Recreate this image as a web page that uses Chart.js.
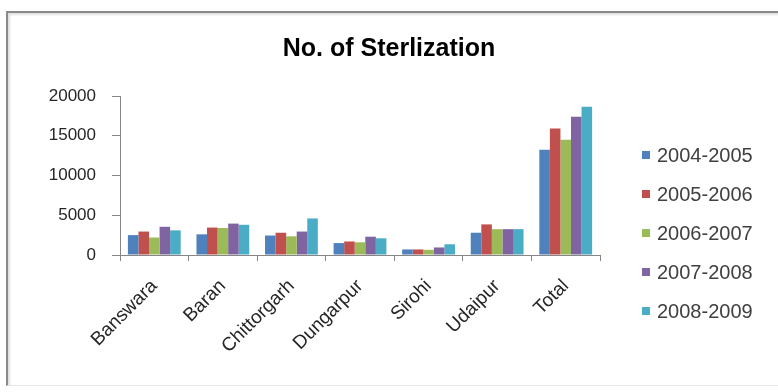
<!DOCTYPE html>
<html>
<head>
<meta charset="utf-8">
<script src="https://cdn.jsdelivr.net/npm/chart.js@4.4.1/dist/chart.umd.min.js"></script>
<style>
  html, body { margin: 0; padding: 0; background: #fff; }
  #wrap { position: relative; width: 778px; height: 392px; overflow: hidden; background: #fff; }
  #frame {
    position: absolute; left: 6px; top: 11px; width: 800px; height: 372px;
    border-left: 2px solid #8a8a8a; border-top: 2px solid #8a8a8a; border-bottom: 1px solid #e6e6e6;
    box-shadow: inset 2px 2px 2px rgba(0,0,0,0.12);
  }
  canvas { position: absolute; left: 0; top: 0; }
  #legend { position: absolute; left: 642px; top: 0; font-family: "Liberation Sans", Arial, sans-serif; font-size: 20px; color: #404040; }
  #legend div { position: absolute; white-space: nowrap; display: flex; align-items: center; height: 22px; }
  #legend span.box { display: inline-block; width: 8px; height: 8px; margin-right: 7px; }
</style>
</head>
<body>
<div id="wrap">
  <div id="frame"></div>
  <canvas id="c" width="778" height="392"></canvas>
  <div id="legend"></div>
</div>
<script>
// Districts along the x axis
const districts = ['Banswara', 'Baran', 'Chittorgarh', 'Dungarpur', 'Sirohi', 'Udaipur', 'Total'];

// Sterilizations per district, one list per year
const y2004_05 = [2500, 2600, 2450, 1500, 700, 2800, 13250];
const y2005_06 = [2950, 3450, 2800, 1700, 700, 3850, 15900];
const y2006_07 = [2200, 3400, 2350, 1600, 650, 3250, 14500];
const y2007_08 = [3550, 3950, 2950, 2300, 950, 3250, 17400];
const y2008_09 = [3100, 3800, 4600, 2100, 1350, 3250, 18650];

const yearLabels = ['2004-2005', '2005-2006', '2006-2007', '2007-2008', '2008-2009'];
const yTicks = [0, 5000, 10000, 15000, 20000];

const palette = ['#4F81BD', '#C0504D', '#9BBB59', '#8064A2', '#4BACC6'];
const seriesValues = [y2004_05, y2005_06, y2006_07, y2007_08, y2008_09];

const FONT = '"Liberation Sans", Arial, sans-serif';

// Centre the title across the whole canvas, not just the plot column
const centerTitle = {
  id: 'centerTitle',
  afterLayout(chart) {
    const t = chart.titleBlock;
    if (t) { t.left = 0; t.right = chart.width; t.width = chart.width; }
  }
};

const chart = new Chart(document.getElementById('c'), {
  type: 'bar',
  data: {
    labels: districts,
    datasets: seriesValues.map((vals, i) => ({
      label: yearLabels[i],
      data: vals,
      backgroundColor: palette[i],
      borderWidth: 0,
      categoryPercentage: 0.77,
      barPercentage: 1.0
    }))
  },
  plugins: [centerTitle],
  options: {
    responsive: false,
    animation: false,
    devicePixelRatio: 1,
    layout: { padding: { left: 0, right: 178, top: 0, bottom: 0 } },
    plugins: {
      legend: { display: false },
      tooltip: { enabled: false },
      title: {
        display: true,
        text: 'No. of Sterlization',
        color: '#000',
        font: { family: FONT, size: 25, weight: 'bold' },
        padding: { top: 34, bottom: 32 }
      }
    },
    scales: {
      x: {
        offset: true,
        grid: { display: true, offset: true, drawOnChartArea: false, drawTicks: true, tickLength: 6, color: '#868686' },
        border: { display: true, color: '#868686', width: 1 },
        ticks: {
          color: '#262626', font: { family: FONT, size: 19 },
          minRotation: 45, maxRotation: 45, autoSkip: false, padding: 14
        },
        afterFit: s => { s.height = 137; }
      },
      y: {
        min: 0, max: 20000,
        afterBuildTicks: s => { s.ticks = yTicks.map(v => ({ value: v })); },
        grid: { display: true, drawOnChartArea: false, drawTicks: true, tickLength: 8, color: '#868686' },
        border: { display: true, color: '#868686', width: 1 },
        ticks: {
          color: '#262626', font: { family: FONT, size: 17 }, padding: 16,
          callback: v => String(v)
        },
        afterFit: s => { s.width = 120; }
      }
    }
  }
});

// Legend entries built from the chart's own datasets
const legend = document.getElementById('legend');
const legendTop = 144, legendStep = 39;
chart.data.datasets.forEach((ds, i) => {
  const row = document.createElement('div');
  row.style.top = (legendTop + i * legendStep) + 'px';
  const box = document.createElement('span');
  box.className = 'box';
  box.style.background = ds.backgroundColor;
  row.appendChild(box);
  row.appendChild(document.createTextNode(ds.label));
  legend.appendChild(row);
});
</script>
</body>
</html>
